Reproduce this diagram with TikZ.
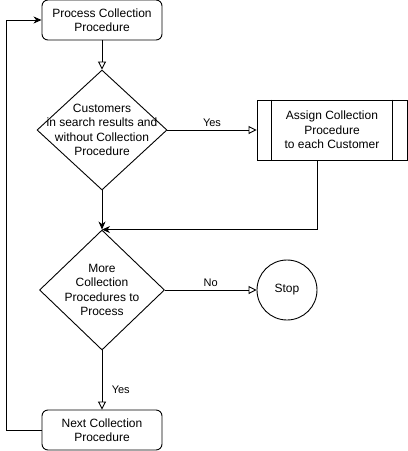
\documentclass[tikz,border=0pt]{standalone}
\usepackage{fontspec}
\setmainfont{Liberation Sans}
\usetikzlibrary{shapes.geometric,arrows.meta}

\begin{document}
\begin{tikzpicture}[x=1pt,y=-1pt,line width=0.9pt,font=\fontsize{12}{14.5}\selectfont,
box/.style={draw,rounded corners=6pt,minimum width=120pt,minimum height=40pt,align=center,inner sep=0pt},
decision/.style={draw,diamond,minimum width=130pt,minimum height=120pt,inner sep=0pt},
procbox/.style={draw,rectangle,minimum width=150pt,minimum height=60pt,align=center,inner sep=0pt},
stopnode/.style={draw,circle,minimum size=60pt,inner sep=0pt},
edgelabel/.style={font=\fontsize{11}{13}\selectfont},
open/.style={-{Triangle[open,length=8pt,width=8pt]}},
filled/.style={-{Stealth[length=8pt,width=7pt,inset=2.5pt]}}]
\useasboundingbox (0,0) rectangle (408,451);
\node[box] (start) at (102,20) {Process Collection\\Procedure};
\node[decision,label={[align=center]center:Customers\\in search results and\\without Collection\\Procedure}] (check) at (102,130) {};
\node[procbox] (assign) at (332,130) {Assign Collection\\Procedure\\to each Customer};
\draw ([xshift=15pt]assign.north west) -- ([xshift=15pt]assign.south west);
\draw ([xshift=-15pt]assign.north east) -- ([xshift=-15pt]assign.south east);
\node[decision,minimum width=125pt,label={[align=center]center:More\\Collection\\Procedures to\\Process}] (more) at (102,290) {};
\node[stopnode] (stop) at (287,290) {Stop};
\node[box] (next) at (102,430) {Next Collection\\Procedure};

\draw[open] (start) -- (check);
\draw[open] (check) -- node[above,edgelabel] {Yes} (assign);
\draw[filled] (check) -- (more);
\draw[filled] ([xshift=-15pt]assign.south) |- (more.north);
\draw[open] (more) -- node[above,edgelabel] {No} (stop);
\draw[open] (more) -- node[pos=0.67,right=6pt,edgelabel] {Yes} (next);
\draw[filled] (next.west) -- ++(-35,0) |- (start.west);
\end{tikzpicture}
\end{document}
